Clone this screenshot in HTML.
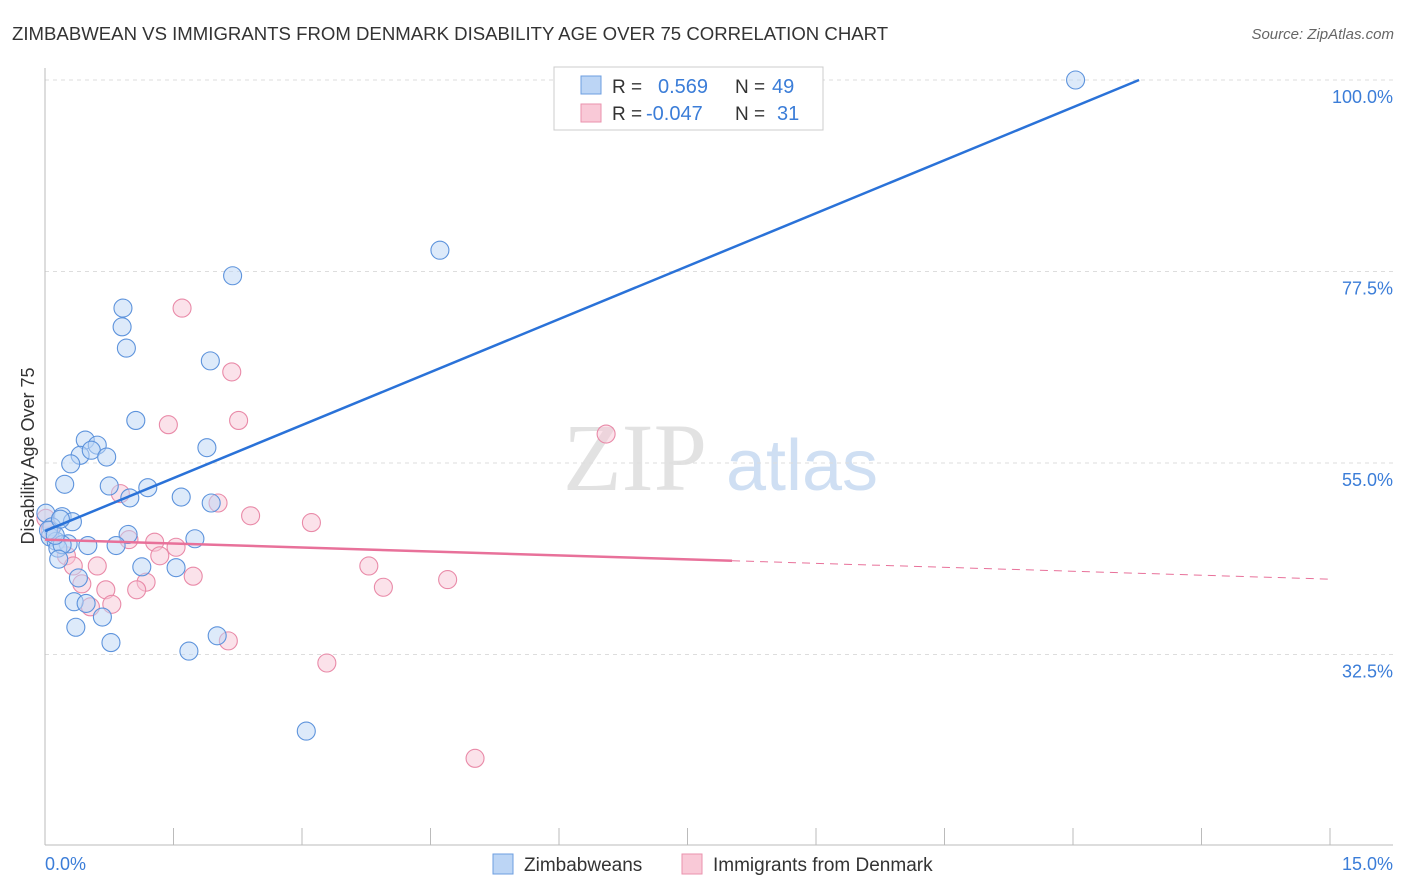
<!DOCTYPE html>
<html><head><meta charset="utf-8"><style>
body{margin:0;background:#fff;font-family:"Liberation Sans",sans-serif;}
svg{display:block}
</style></head><body>
<svg id="chart" width="1406" height="892" xmlns="http://www.w3.org/2000/svg">
<text x="12" y="40" font-size="18.6" fill="#333">ZIMBABWEAN VS IMMIGRANTS FROM DENMARK DISABILITY AGE OVER 75 CORRELATION CHART</text>
<text x="1394" y="39" font-size="15" fill="#666" font-style="italic" text-anchor="end">Source: ZipAtlas.com</text>
<g>
<text x="635" y="490" font-size="96" font-family="Liberation Serif,serif" fill="#e2e2e2" text-anchor="middle">ZIP</text>
<text x="802" y="490" font-size="72" fill="#cfdff3" text-anchor="middle">atlas</text>
</g>
<g id="grid"></g>
<g id="axes"></g>
<g id="marks"></g>
<text transform="translate(34,456) rotate(-90)" font-size="18" fill="#333" text-anchor="middle">Disability Age Over 75</text>
<text x="45" y="870" font-size="18" fill="#3b7dd8">0.0%</text>
<text x="1393" y="870" font-size="18" fill="#3b7dd8" text-anchor="end">15.0%</text>
<g>
<rect x="554" y="67" width="269" height="63" fill="#fff" stroke="#ccc"/>
<rect x="581" y="76" width="20" height="18" fill="#bcd5f5" stroke="#6c9ee0"/>
<rect x="581" y="104" width="20" height="18" fill="#f9c9d7" stroke="#ea92ad"/>
<text x="612" y="93" font-size="19" fill="#333">R = </text><text x="658" y="93" font-size="20" fill="#3b7dd8">0.569</text>
<text x="735" y="93" font-size="19" fill="#333">N = </text><text x="772" y="93" font-size="20" fill="#3b7dd8">49</text>
<text x="612" y="120" font-size="19" fill="#333">R = </text><text x="646" y="120" font-size="20" fill="#3b7dd8">-0.047</text>
<text x="735" y="120" font-size="19" fill="#333">N = </text><text x="777" y="120" font-size="20" fill="#3b7dd8">31</text>
</g>
<g>
<rect x="493" y="854" width="20" height="20" fill="#bcd5f5" stroke="#6c9ee0"/>
<text x="524" y="871" font-size="19" fill="#333">Zimbabweans</text>
<rect x="682" y="854" width="20" height="20" fill="#f9c9d7" stroke="#ea92ad"/>
<text x="713" y="871" font-size="19" fill="#333">Immigrants from Denmark</text>
</g>
</svg>
<script>
const yTicks=[100,77.5,55,32.5];
const yTickLabels=["100.0%","77.5%","55.0%","32.5%"];
const xTicks=[0,1.5,3,4.5,6,7.5,9,10.5,12,13.5,15];
const blueX=[12.03,4.61,2.19,0.91,0.90,0.95,1.93,1.06,0.47,0.61,1.89,0.41,0.54,0.72,0.30,0.23,0.75,1.20,1.59,0.99,1.94,0.01,0.20,0.32,0.08,0.97,0.06,0.13,1.75,0.27,0.50,0.83,0.15,0.20,0.16,1.13,1.53,0.39,0.34,0.48,0.67,0.36,2.01,0.77,1.68,3.05,0.04,0.12,0.18];
const blueY=[100,80.0,77.0,73.2,71.0,68.5,67.0,60.0,57.7,57.1,56.8,55.9,56.5,55.7,54.9,52.5,52.3,52.1,51.0,50.9,50.3,49.1,48.7,48.1,47.5,46.6,46.3,45.8,46.1,45.5,45.3,45.3,45.0,45.4,43.7,42.8,42.7,41.5,38.7,38.5,36.9,35.7,34.7,33.9,32.9,23.5,47.1,46.5,48.4];
const pinkX=[1.60,2.18,2.26,1.44,6.55,0.88,2.02,2.40,3.11,0.01,0.98,1.28,1.53,1.34,0.25,0.33,0.61,3.78,1.73,4.70,0.43,1.18,3.95,0.71,1.07,0.78,0.53,2.14,3.29,5.02,0.06];
const pinkY=[73.2,65.7,60.0,59.5,58.4,51.4,50.3,48.8,48.0,48.5,46.0,45.7,45.1,44.1,44.1,42.9,42.9,42.9,41.7,41.3,40.8,41.0,40.4,40.1,40.1,38.4,38.1,34.1,31.5,20.3,47.1];
const blueTrend=[47.0,4.15];
const pinkTrend=[46.0,-0.31];
const NS="http://www.w3.org/2000/svg";
function xs(v){return 45+v*(1285/15);}
function ys(v){return 80+(100-v)*8.511;}
function mk(tag,attrs,parent){const e=document.createElementNS(NS,tag);for(const k in attrs)e.setAttribute(k,attrs[k]);parent.appendChild(e);return e;}
const grid=document.getElementById('grid'),axes=document.getElementById('axes'),marks=document.getElementById('marks');
yTicks.forEach((t,i)=>{
 const l=mk('line',{x1:45,x2:1393,y1:ys(t),y2:ys(t),stroke:'#ddd','stroke-dasharray':'4,4'},grid);
 
 
 const tx=mk('text',{x:1393,y:ys(t)+23,'font-size':18,fill:'#3b7dd8','text-anchor':'end'},grid);
 tx.textContent=yTickLabels[i];
 
 
});
const ya=mk('line',{x1:45,x2:45,y1:68,y2:845,stroke:'#bbb'},axes);


const xa=mk('line',{x1:45,x2:1393,y1:845,y2:845,stroke:'#bbb'},axes);


xTicks.forEach(t=>{
 const l=mk('line',{x1:xs(t),x2:xs(t),y1:828,y2:845,stroke:'#bbb'},axes);
 
 
});
function pts(X,Y,fill,stroke,name){
 X.forEach((x,i)=>{
  const c=mk('circle',{cx:xs(x),cy:ys(Y[i]),r:9,fill:fill,'fill-opacity':0.5,stroke:stroke,'stroke-width':1.1},marks);
  
  
 });
}
pts(pinkX,pinkY,'#f8c6d5','#e98aa8','denmark-point');
pts(blueX,blueY,'#bcd5f5','#5d93dc','zimbabwean-point');
const bxEnd=(100-blueTrend[0])/blueTrend[1];
const bl=mk('line',{x1:xs(0),y1:ys(blueTrend[0]),x2:xs(bxEnd),y2:ys(100),stroke:'#2a72d8','stroke-width':2.5},marks);


const pl=mk('line',{x1:xs(0),y1:ys(pinkTrend[0]),x2:xs(8.02),y2:ys(pinkTrend[0]+pinkTrend[1]*8.02),stroke:'#e8719a','stroke-width':2.5},marks);


const pd=mk('line',{x1:xs(8.02),y1:ys(pinkTrend[0]+pinkTrend[1]*8.02),x2:xs(15),y2:ys(pinkTrend[0]+pinkTrend[1]*15),stroke:'#e8719a','stroke-width':1,'stroke-dasharray':'8,6'},marks);


</script>
</body></html>
